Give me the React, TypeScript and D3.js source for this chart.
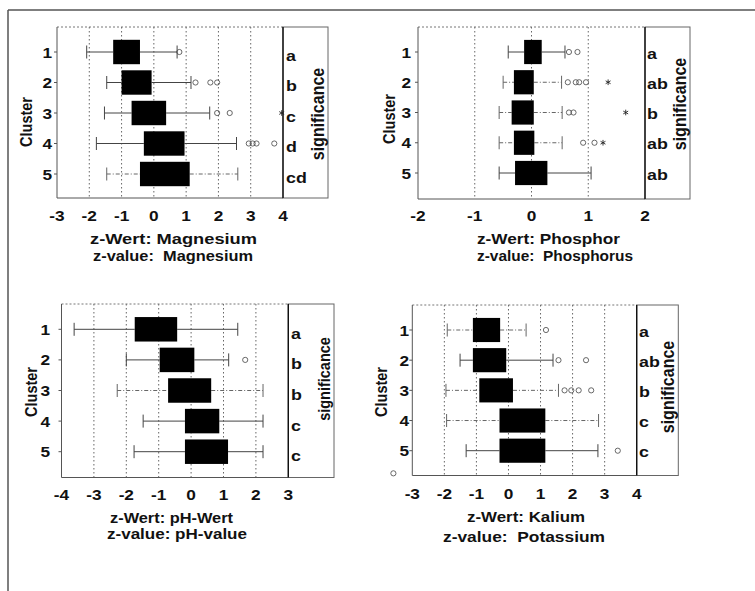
import React from 'react';
import * as d3 from 'd3';

// ---------- data ----------
const clusters = [1, 2, 3, 4, 5];

// Magnesium
const mgTicks = [-3, -2, -1, 0, 1, 2, 3, 4];
const mgLow = [-2.08, -1.46, -1.53, -1.78, -1.46];
const mgQ1 = [-1.26, -1.0, -0.69, -0.31, -0.43];
const mgQ3 = [-0.43, -0.07, 0.38, 0.95, 1.11];
const mgHigh = [0.72, 1.15, 1.73, 2.56, 2.6];
const mgOutliers = [[0.79], [1.29, 1.75, 1.96], [1.96, 2.35], [2.94, 3.06, 3.18, 3.73], []];
const mgExtremes = [[], [], [3.96], [], []];
const mgSignificance = ['a', 'b', 'c', 'd', 'cd'];

// Phosphor
const pTicks = [-2, -1, 0, 1, 2];
const pLow = [-0.41, -0.5, -0.57, -0.57, -0.57];
const pQ1 = [-0.13, -0.31, -0.35, -0.31, -0.29];
const pQ3 = [0.18, 0.04, 0.04, 0.05, 0.28];
const pHigh = [0.59, 0.53, 0.54, 0.54, 1.05];
const pOutliers = [[0.66, 0.81], [0.64, 0.78, 0.84, 0.96], [0.66, 0.74], [0.91, 1.11], []];
const pExtremes = [[], [1.35], [1.66], [1.26], []];
const pSignificance = ['a', 'ab', 'b', 'ab', 'ab'];

// pH
const phTicks = [-4, -3, -2, -1, 0, 1, 2, 3];
const phLow = [-3.61, -2.0, -2.28, -1.48, -1.76];
const phQ1 = [-1.74, -0.97, -0.71, -0.19, -0.19];
const phQ3 = [-0.43, 0.1, 0.62, 0.87, 1.14];
const phHigh = [1.44, 1.16, 2.22, 2.22, 2.22];
const phOutliers = [[], [1.67], [], [], []];
const phExtremes = [[], [], [], [], []];
const phSignificance = ['a', 'b', 'b', 'c', 'c'];

// Kalium
const kTicks = [-3, -2, -1, 0, 1, 2, 3, 4];
const kLow = [-1.91, -1.51, -1.95, -1.93, -1.32];
const kQ1 = [-1.11, -1.11, -0.91, -0.28, -0.28];
const kQ3 = [-0.26, -0.07, 0.14, 1.15, 1.15];
const kHigh = [0.55, 1.39, 1.56, 2.81, 2.79];
const kOutliers = [[1.17], [1.56, 2.42], [1.75, 1.96, 2.19, 2.58], [], [3.41]];
const kExtremes = [[], [], [], [], []];
const kSignificance = ['a', 'ab', 'b', 'c', 'c'];
const kStrayValue = [-3.59];
const kStrayRow = [5.75];

// ---------- layout ----------
const FONT = 'Liberation Sans, Arial, Helvetica, sans-serif';
const SX = 1.15;

const panels = [
  {
    ticks: mgTicks, low: mgLow, q1: mgQ1, q3: mgQ3, high: mgHigh, outliers: mgOutliers, extremes: mgExtremes,
    sig: mgSignificance, title1: 'z-Wert: Magnesium', title2: 'z-value:  Magnesium', strayV: [], strayR: [],
    left: 57, right: 283, top: 27, bottom: 198, row1: 52, row5: 174, boxRight: 328,
    sigX: 286, sigDy: 3, sigTextX: 318, sigTextY: 114, clusterX: 27, clusterY: 122, yLabelX: 52,
    xLabelY: 215, t1: [173.5, 238, 167], t2: [173, 255, 160], dashed: [4], sigSize: 16,
  },
  {
    ticks: pTicks, low: pLow, q1: pQ1, q3: pQ3, high: pHigh, outliers: pOutliers, extremes: pExtremes,
    sig: pSignificance, title1: 'z-Wert: Phosphor', title2: 'z-value:  Phosphorus', strayV: [], strayR: [],
    left: 418, right: 645, top: 27, bottom: 199, row1: 52, row5: 173, boxRight: 690,
    sigX: 647, sigDy: 1, sigTextX: 680, sigTextY: 104, clusterX: 390, clusterY: 119, yLabelX: 411,
    xLabelY: 215, t1: [548.5, 238, 143], t2: [555, 255, 156], dashed: [1, 2, 3], sigSize: 16,
  },
  {
    ticks: phTicks, low: phLow, q1: phQ1, q3: phQ3, high: phHigh, outliers: phOutliers, extremes: phExtremes,
    sig: phSignificance, title1: 'z-Wert: pH-Wert', title2: 'z-value: pH-value', strayV: [], strayR: [],
    left: 61.5, right: 288.3, top: 304, bottom: 477.5, row1: 329.3, row5: 451.7, boxRight: 334,
    sigX: 291, sigDy: 4, sigTextX: 325, sigTextY: 379, clusterX: 32, clusterY: 392, yLabelX: 50,
    xLabelY: 494, t1: [171.5, 517, 123], t2: [177, 533, 140], dashed: [2], sigSize: 14.5,
  },
  {
    ticks: kTicks, low: kLow, q1: kQ1, q3: kQ3, high: kHigh, outliers: kOutliers, extremes: kExtremes,
    sig: kSignificance, title1: 'z-Wert: Kalium', title2: 'z-value:  Potassium', strayV: kStrayValue, strayR: kStrayRow,
    left: 412.3, right: 636.7, top: 305, bottom: 475.5, row1: 330, row5: 450.7, boxRight: 678.3,
    sigX: 639, sigDy: 1, sigTextX: 668, sigTextY: 387, clusterX: 382, clusterY: 392, yLabelX: 409,
    xLabelY: 493, t1: [526, 516, 118], t2: [524, 536, 162], dashed: [0, 2, 3], sigSize: 16,
  },
];

function HText({ x, y, anchor = 'middle', size = 14, children }: any) {
  return (
    <text transform={`translate(${x},${y}) scale(${SX},1)`} textAnchor={anchor} fontSize={size}
      fontWeight="bold" fontFamily={FONT} fill="#111" style={{ whiteSpace: 'pre' }}>{children}</text>
  );
}

function TitleText({ x, y, len, size = 15.5, children }: any) {
  return (
    <text x={x - len / 2} y={y} textLength={len} lengthAdjust="spacingAndGlyphs" fontSize={size}
      fontWeight="bold" fontFamily={FONT} fill="#111" style={{ whiteSpace: 'pre' }}>{children}</text>
  );
}

function VText({ cx, cy, size = 15, children }: any) {
  return (
    <text transform={`translate(${cx + size * 0.36},${cy}) rotate(-90) scale(1,${SX})`} textAnchor="middle"
      fontSize={size} fontWeight="bold" fontFamily={FONT} fill="#111">{children}</text>
  );
}

function Panel({ p }: any) {
  const dom = [p.ticks[0], p.ticks[p.ticks.length - 1]];
  const x = d3.scaleLinear().domain(dom).range([p.left, p.right]);
  const y = d3.scaleLinear().domain([1, 5]).range([p.row1, p.row5]);
  const boxH = (y(2) - y(1)) * 0.8;
  const capH = 13;
  const grid = p.ticks.slice(1, -1);
  const asterisk = d3.symbol(d3.symbolAsterisk, 22)();
  return (
    <g>
      {grid.map((t: number) => (
        <line key={'g' + t} x1={x(t)} x2={x(t)} y1={p.top} y2={p.bottom} stroke="#555" strokeWidth={0.9}
          strokeDasharray="1.5,2.5" />
      ))}
      <line x1={p.left} x2={p.right} y1={p.top} y2={p.top} stroke="#777" strokeWidth={1} strokeDasharray="2,2" />
      <line x1={p.left} x2={p.left} y1={p.top} y2={p.bottom} stroke="#555" strokeWidth={1} />
      <line x1={p.left} x2={p.right} y1={p.bottom} y2={p.bottom} stroke="#555" strokeWidth={1} />
      <rect x={p.right} y={p.top} width={p.boxRight - p.right} height={p.bottom - p.top} fill="none"
        stroke="#666" strokeWidth={1} />
      <line x1={p.right} x2={p.right} y1={p.top} y2={p.bottom} stroke="#111" strokeWidth={1.4} />
      {clusters.map((c) => (
        <line key={'yt' + c} x1={p.left - 3} x2={p.left} y1={y(c)} y2={y(c)} stroke="#555" strokeWidth={1} />
      ))}
      {clusters.map((c, i) => {
        const yc = y(c);
        const dashed = p.dashed.includes(i);
        const ws = dashed ? '4,2,1,2' : undefined;
        const wc = dashed ? '#666' : '#444';
        return (
          <g key={'b' + c}>
            <line x1={x(p.low[i])} x2={x(p.q1[i])} y1={yc} y2={yc} stroke={wc} strokeWidth={1} strokeDasharray={ws} />
            <line x1={x(p.q3[i])} x2={x(p.high[i])} y1={yc} y2={yc} stroke={wc} strokeWidth={1} strokeDasharray={ws} />
            <line x1={x(p.low[i])} x2={x(p.low[i])} y1={yc - capH / 2} y2={yc + capH / 2} stroke={wc} strokeWidth={1} />
            <line x1={x(p.high[i])} x2={x(p.high[i])} y1={yc - capH / 2} y2={yc + capH / 2} stroke={wc} strokeWidth={1} />
            <rect x={x(p.q1[i])} y={yc - boxH / 2} width={x(p.q3[i]) - x(p.q1[i])} height={boxH} fill="#000" />
            {p.outliers[i].map((v: number, j: number) => (
              <circle key={'o' + j} cx={x(v)} cy={yc} r={2.6} fill="none" stroke="#444" strokeWidth={0.8} />
            ))}
            {p.extremes[i].map((v: number, j: number) => (
              <path key={'e' + j} d={asterisk as string} transform={`translate(${x(v)},${yc})`} fill="none"
                stroke="#222" strokeWidth={0.9} />
            ))}
          </g>
        );
      })}
      {p.strayV.map((v: number, j: number) => (
        <circle key={'s' + j} cx={x(v)} cy={y(p.strayR[j])} r={2.6} fill="none" stroke="#444" strokeWidth={0.8} />
      ))}
      {clusters.map((c) => (
        <HText key={'yl' + c} x={p.yLabelX} y={y(c) + 5.5} anchor="end" size={15}>{String(c)}</HText>
      ))}
      {p.ticks.map((t: number) => (
        <HText key={'xl' + t} x={x(t)} y={p.xLabelY + 5.5} size={15}>{String(t)}</HText>
      ))}
      {p.sig.map((s: string, i: number) => (
        <HText key={'sg' + i} x={p.sigX} y={y(clusters[i]) + 5.5 + p.sigDy} anchor="start" size={15.5}>{s}</HText>
      ))}
      <VText cx={p.sigTextX} cy={p.sigTextY} size={p.sigSize}>significance</VText>
      <VText cx={p.clusterX} cy={p.clusterY} size={14.5}>Cluster</VText>
      <TitleText x={p.t1[0]} y={p.t1[1] + 5.5} len={p.t1[2]}>{p.title1}</TitleText>
      <TitleText x={p.t2[0]} y={p.t2[1] + 5.5} len={p.t2[2]}>{p.title2}</TitleText>
    </g>
  );
}

export default function App() {
  return (
    <svg width={755} height={591} style={{ position: 'absolute', left: 0, top: 0, background: '#fff' }}>
      <rect x={0} y={0} width={755} height={591} fill="#fff" />
      <line x1={8} x2={755} y1={10} y2={10} stroke="#555" strokeWidth={1.5} />
      <line x1={8} x2={8} y1={10} y2={591} stroke="#555" strokeWidth={1.5} />
      {panels.map((p, i) => (
        <Panel key={i} p={p} />
      ))}
    </svg>
  );
}
